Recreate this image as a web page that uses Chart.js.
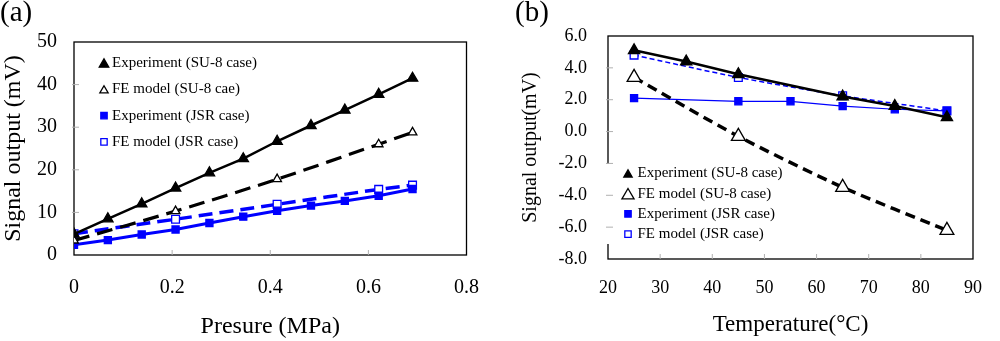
<!DOCTYPE html>
<html>
<head>
<meta charset="utf-8">
<script src="https://cdn.jsdelivr.net/npm/chart.js@4/dist/chart.umd.min.js"></script>
<style>
  body { margin: 0; background: #fff; }
  #wrap { position: relative; width: 1000px; height: 341px; overflow: hidden; }
  .panel { position: absolute; top: 0; width: 500px; height: 341px; }
  .tag { position: absolute; top: -3px; font: 29px "Liberation Serif", "Times New Roman", serif; line-height: 29px; color: #000; }
</style>
</head>
<body>
<div id="wrap">
  <div class="panel" style="left:0"><canvas id="chartA"></canvas></div>
  <div class="panel" style="left:500px"><canvas id="chartB"></canvas></div>
  <div class="tag" style="left:0">(a)</div>
  <div class="tag" style="left:515px">(b)</div>
</div>
<script>
// (a) pressure sweep
const pressure = [0, 0.069, 0.138, 0.207, 0.276, 0.345, 0.414, 0.483, 0.552, 0.621, 0.69];
const expSU8A = [4.9, 8.5, 12.0, 15.7, 19.3, 22.6, 26.7, 30.4, 34.0, 37.7, 41.5];
const expJSRA = [2.4, 3.5, 4.8, 6.0, 7.5, 9.0, 10.4, 11.6, 12.7, 13.9, 15.5];
const pressureFE = [0, 0.207, 0.414, 0.621, 0.69];
const feSU8A = [3.4, 10.3, 17.8, 26.0, 28.8];
const feJSRA = [5.0, 8.4, 11.9, 15.4, 16.4];

// (b) temperature sweep
const tempExpSU8 = [25, 35, 45, 65, 75, 85];
const expSU8B = [5.1, 4.4, 3.6, 2.2, 1.6, 0.9];
const tempExpJSR = [25, 45, 55, 65, 75, 85];
const expJSRB = [2.1, 1.9, 1.9, 1.6, 1.4, 1.3];
const tempFE = [25, 45, 65, 85];
const feSU8B = [3.4, -0.3, -3.5, -6.2];
const feJSRB = [4.8, 3.4, 2.25, 1.3];

const legendNames = ["Experiment (SU-8 case)", "FE model (SU-8 cae)", "Experiment (JSR case)", "FE model (JSR case)"];
const legendNamesB = ["Experiment (SU-8 case)", "FE model (SU-8 case)", "Experiment (JSR case)", "FE model (JSR case)"];

const SERIF = '"Liberation Serif", "Times New Roman", serif';
const BLUE = "#0000ff";

function pts(xs, ys) {
  return xs.map((x, i) => ({ x: x, y: ys[i] }));
}

function marker(ctx, style, x, y, r, fill, stroke, lw) {
  ctx.beginPath();
  if (style === "triangle") {
    ctx.moveTo(x, y - r);
    ctx.lineTo(x + r * 0.866, y + r / 2);
    ctx.lineTo(x - r * 0.866, y + r / 2);
    ctx.closePath();
  } else {
    const s = r * Math.SQRT1_2;
    ctx.rect(x - s, y - s, 2 * s, 2 * s);
  }
  ctx.fillStyle = fill;
  ctx.fill();
  ctx.lineWidth = lw;
  ctx.strokeStyle = stroke;
  ctx.stroke();
}

// frame, inner tick marks and the legend
const decor = {
  id: "decor",
  beforeDatasetsDraw(chart) {
    const a = chart.chartArea, ctx = chart.ctx;
    ctx.save();
    ctx.strokeStyle = "#000";
    ctx.lineWidth = 1.3;
    ctx.strokeRect(a.left, a.top, a.right - a.left, a.bottom - a.top);
    ctx.restore();
  },
  afterDatasetsDraw(chart, args, opts) {
    const a = chart.chartArea, ctx = chart.ctx;
    ctx.save();
    if (opts.box) {
      ctx.fillStyle = "#fff";
      ctx.fillRect(opts.box[0], opts.box[1], opts.box[2], opts.box[3]);
    }
    // light tick marks inside the plot
    ctx.strokeStyle = "#b0b0b0";
    ctx.lineWidth = 1;
    const xs = chart.scales.x, ys = chart.scales.y;
    xs.ticks.forEach(t => {
      const px = xs.getPixelForValue(t.value);
      if (px <= a.left + 1 || px >= a.right - 1) return;
      ctx.beginPath(); ctx.moveTo(px, a.bottom); ctx.lineTo(px, a.bottom - 5); ctx.stroke();
    });
    ys.ticks.forEach(t => {
      const py = ys.getPixelForValue(t.value);
      if (py <= a.top + 1 || py >= a.bottom - 1) return;
      ctx.beginPath(); ctx.moveTo(a.left - 2, py); ctx.lineTo(a.left + 5, py); ctx.stroke();
    });
    // legend
    ctx.font = opts.font;
    ctx.textBaseline = "middle";
    ctx.textAlign = "left";
    chart.data.datasets.forEach((ds, i) => {
      const y = opts.y0 + i * opts.dy;
      const r = opts.r[i];
      marker(ctx, ds.pointStyle, opts.mx, y + (ds.pointStyle === "triangle" ? r / 4 : 0), r,
        ds.pointBackgroundColor, ds.pointBorderColor, 1.3);
      ctx.fillStyle = "#000";
      ctx.fillText(opts.names[i], opts.tx, y);
    });
    ctx.restore();
  }
};

function series(data, color, filled, style, r, width, dash, tension) {
  return {
    data: data,
    borderColor: color,
    borderWidth: width,
    borderDash: dash,
    tension: tension,
    pointStyle: style,
    pointRadius: r,
    pointBorderWidth: 1.3,
    pointBorderColor: color,
    pointBackgroundColor: filled ? color : "#fff"
  };
}

function axis(min, max, step, tickFont, pad, title, titleFont, titlePad, size, fmt) {
  return {
    type: "linear",
    min: min,
    max: max,
    grid: { display: false, drawTicks: false },
    border: { display: false },
    ticks: {
      stepSize: step,
      padding: pad,
      color: "#000",
      font: { family: SERIF, size: tickFont },
      callback: fmt
    },
    title: {
      display: true,
      text: title,
      color: "#000",
      font: { family: SERIF, size: titleFont, lineHeight: 1 },
      padding: titlePad
    },
    afterFit(scale) {
      if (scale.isHorizontal()) scale.height = size; else scale.width = size;
    }
  };
}

Chart.defaults.animation = false;

// Signal output vs pressure
new Chart(document.getElementById("chartA"), {
  type: "line",
  data: {
    datasets: [
      series(pts(pressure, expSU8A), "#000", true, "triangle", 6, 2.5, [], 0),
      series(pts(pressureFE, feSU8A), "#000", false, "triangle", 5, 3.2, [16, 8], 0.3),
      series(pts(pressure, expJSRA), BLUE, true, "rect", 5, 3, [], 0),
      series(pts(pressureFE, feJSRA), BLUE, false, "rect", 5.5, 3.5, [14, 7], 0.3)
    ]
  },
  options: {
    responsive: true,
    maintainAspectRatio: false,
    layout: { padding: { left: 0, right: 33, top: 42, bottom: 0 } },
    scales: {
      x: axis(0, 0.8, 0.2, 20, 21, "Presure (MPa)", 24, { top: 0, bottom: 2 }, 86,
        v => String(Number(v.toFixed(1)))),
      y: axis(0, 50, 10, 20, 17, "Signal output (mV)", 24, { top: 2, bottom: 0 }, 74,
        v => String(v))
    },
    plugins: {
      legend: { display: false },
      tooltip: { enabled: false },
      decor: {
        names: legendNames,
        font: "15px " + SERIF,
        mx: 104, tx: 112, y0: 63, dy: 26.3,
        r: [5.5, 4.8, 4.5, 4.5]
      }
    }
  },
  plugins: [decor]
});

// Signal output vs temperature
new Chart(document.getElementById("chartB"), {
  type: "line",
  data: {
    datasets: [
      series(pts(tempExpSU8, expSU8B), "#000", true, "triangle", 6.5, 2.5, [], 0),
      series(pts(tempFE, feSU8B), "#000", false, "triangle", 8, 3.5, [10, 6], 0.25),
      series(pts(tempExpJSR, expJSRB), BLUE, true, "rect", 5, 1.2, [], 0),
      series(pts(tempFE, feJSRB), BLUE, false, "rect", 5.5, 1.5, [5, 3], 0.25)
    ]
  },
  options: {
    responsive: true,
    maintainAspectRatio: false,
    layout: { padding: { left: 0, right: 10, top: 36, bottom: 0 } },
    scales: {
      x: axis(20, 90, 10, 18, 18, "Temperature(\u00b0C)", 23, { top: 0, bottom: 5 }, 82,
        v => String(v)),
      y: axis(-8, 6, 2, 18, 21, "Signal output(mV)", 20, { top: 21, bottom: 0 }, 108,
        v => v.toFixed(1))
    },
    plugins: {
      legend: { display: false },
      tooltip: { enabled: false },
      decor: {
        names: legendNamesB,
        font: "15px " + SERIF,
        mx: 128, tx: 137.5, y0: 173.5, dy: 20.2,
        r: [4.8, 7, 4.5, 4.5],
        box: [106, 164, 184, 80]
      }
    }
  },
  plugins: [decor]
});
</script>
</body>
</html>
